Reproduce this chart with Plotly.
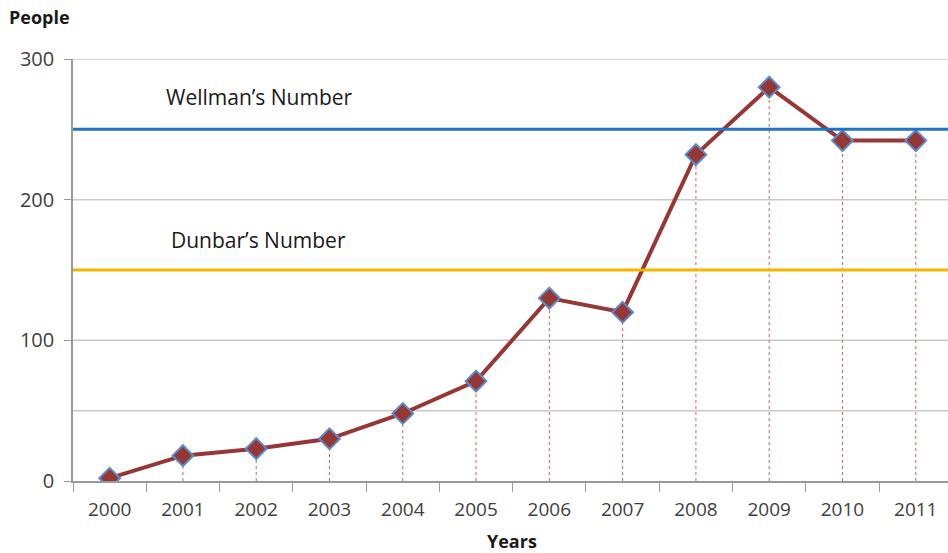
import plotly.graph_objects as go

years = ["2000", "2001", "2002", "2003", "2004", "2005",
         "2006", "2007", "2008", "2009", "2010", "2011"]
people = [2, 18, 23, 30, 48, 71, 130, 120, 232, 280, 242, 242]
wellman_number = 250
dunbar_number = 150

line_red = "#953735"
marker_edge = "#5B8BC9"
grid_grey = "#C8C8C8"
axis_grey = "#9A9A9A"
text_grey = "#404040"
font_family = "Open Sans, Liberation Sans, sans-serif"

fig = go.Figure()

# dashed drop lines from each point down to the category axis
drop_x, drop_y = [], []
for yr, v in zip(years, people):
    drop_x += [yr, yr, None]
    drop_y += [0, v, None]
fig.add_trace(go.Scatter(
    x=drop_x, y=drop_y, mode="lines",
    line=dict(color="#D06060", width=1, dash="dot"),
    hoverinfo="skip", showlegend=False))

# reference levels
fig.add_hline(y=wellman_number, line=dict(color="#1F74C4", width=3))
fig.add_hline(y=dunbar_number, line=dict(color="#F6B400", width=3))

# main series
fig.add_trace(go.Scatter(
    x=years, y=people, mode="lines+markers",
    line=dict(color=line_red, width=4),
    marker=dict(symbol="diamond", size=16, color=line_red,
                line=dict(color=marker_edge, width=2)),
    showlegend=False))

fig.add_annotation(text="Wellman\u2019s Number", xref="paper", yref="paper",
                   x=(164 - 73) / 875, y=(481 - 97) / 422, xanchor="left", yanchor="middle",
                   showarrow=False, font=dict(size=21, color="#1A1A1A", family=font_family))
fig.add_annotation(text="Dunbar\u2019s Number", xref="paper", yref="paper",
                   x=(169 - 73) / 875, y=(481 - 240) / 422, xanchor="left", yanchor="middle",
                   showarrow=False, font=dict(size=21, color="#1A1A1A", family=font_family))
fig.add_annotation(text="<b>People</b>", xref="paper", yref="paper",
                   x=(7 - 73) / 875, y=(481 - 17) / 422, xanchor="left", yanchor="middle",
                   showarrow=False, font=dict(size=18, color="#1A1A1A", family=font_family))
fig.add_annotation(text="<b>Years</b>", xref="paper", yref="paper",
                   x=(512 - 73) / 875, y=-(541 - 481) / 422, xanchor="center", yanchor="middle",
                   showarrow=False, font=dict(size=18, color="#1A1A1A", family=font_family))

fig.update_layout(
    width=948, height=553,
    margin=dict(l=73, r=0, t=59, b=72),
    paper_bgcolor="white", plot_bgcolor="white",
    font=dict(family=font_family, color=text_grey, size=19),
    xaxis=dict(type="category", range=[-0.5, 11.44],
               showgrid=False, showline=True, linecolor=axis_grey, linewidth=1.5,
               ticks="outside", tickson="boundaries", ticklen=9, tickcolor=axis_grey,
               tickfont=dict(size=19, color=text_grey), ticklabelstandoff=10,
               zeroline=False),
    yaxis=dict(range=[0, 300], tickvals=[0, 100, 200, 300], dtick=50,
               showgrid=False, showline=True, linecolor=axis_grey, linewidth=1.5,
               ticks="outside", ticklen=7, tickcolor=axis_grey,
               tickfont=dict(size=20, color=text_grey), ticklabelstandoff=6,
               zeroline=False),
)

# horizontal grid every 50 people
for g in range(50, 301, 50):
    fig.add_shape(type="line", xref="paper", yref="y", x0=0, x1=1, y0=g, y1=g,
                  line=dict(color=grid_grey, width=1.5), layer="below")

fig.write_html("out.html")
